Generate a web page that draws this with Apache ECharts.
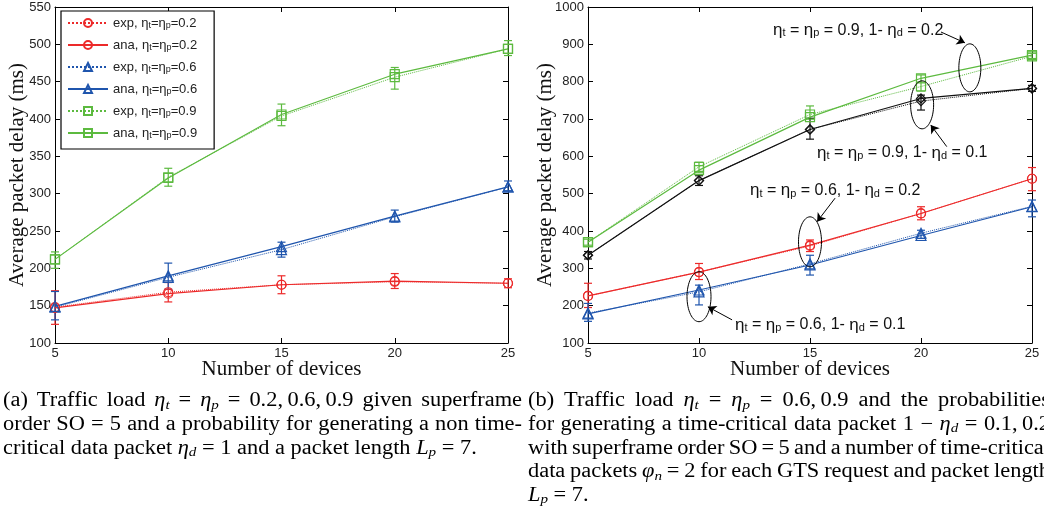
<!DOCTYPE html>
<html>
<head>
<meta charset="utf-8">
<script src="https://cdn.jsdelivr.net/npm/echarts@6/dist/echarts.min.js"></script>
<style>html,body{margin:0;padding:0;background:#fff}#main{width:1044px;height:515px}</style>
</head>
<body>
<div id="main"></div>
<script>
// x values: number of devices
var devices = [5, 10, 15, 20, 25];

// (a) eta_d = 1
var expA02 = [148, 168, 178, 182, 180];
var anaA02 = [147, 166, 178, 183, 180];
var errA02 = [[125, 170], [155, 181], [166, 190], [173, 193], [174, 186]];
var expA06 = [148, 188, 225, 269, 309];
var anaA06 = [149, 190, 229, 270, 309];
var errA06 = [[131, 169], [172, 207], [215, 235], [262, 278], [304, 317]];
var expA09 = [212, 322, 404, 456, 494];
var anaA09 = [212, 321, 406, 460, 494];
var errA09 = [[200, 222], [310, 334], [391, 420], [440, 469], [485, 505]];

// (b) time-critical packets
var expB0902 = [370, 572, 712, 787, 868];
var anaB0902 = [370, 563, 705, 809, 871];
var errB0902 = [[362, 378], [556, 584], [700, 735], [775, 818], [862, 876]];
var expB0901 = [335, 535, 672, 748, 782];
var anaB0901 = [335, 535, 672, 755, 782];
var errB0901 = [[325, 345], [522, 548], [646, 702], [724, 764], [774, 790]];
var expB0602 = [226, 290, 360, 447, 540];
var anaB0602 = [226, 290, 362, 447, 540];
var errB0602 = [[195, 260], [270, 313], [345, 376], [430, 465], [508, 570]];
var expB0601 = [180, 237, 312, 394, 466];
var anaB0601 = [178, 242, 309, 388, 465];
var errB0601 = [[158, 206], [202, 255], [282, 335], [380, 402], [438, 483]];

var legendNames = ['exp, ηt=ηp=0.2', 'ana, ηt=ηp=0.2', 'exp, ηt=ηp=0.6', 'ana, ηt=ηp=0.6', 'exp, ηt=ηp=0.9', 'ana, ηt=ηp=0.9'];

// annotation of panel (b): ellipse centres [x, y, rx px, ry px]
var ellipses = [[22.2, 837, 11, 24], [20.05, 738, 11.5, 24], [15, 371, 11.5, 25], [10, 224, 12, 25]];
// arrows [x1, y1, x2, y2] (head at the second point)
var arrows = [[20.9, 933, 21.98, 904], [21.16, 626, 20.44, 684], [16.13, 488, 15.32, 425], [11.49, 162, 10.4, 197]];
// labels [x, y, text]
var notes = [[13.33, 938, '{e|η}{s|t} = {e|η}{s|p} = 0.9, 1- {e|η}{s|d} = 0.2'],
             [15.32, 609, '{e|η}{s|t} = {e|η}{s|p} = 0.9, 1- {e|η}{s|d} = 0.1'],
             [12.3, 508, '{e|η}{s|t} = {e|η}{s|p} = 0.6, 1- {e|η}{s|d} = 0.2'],
             [11.62, 148, '{e|η}{s|t} = {e|η}{s|p} = 0.6, 1- {e|η}{s|d} = 0.1']];

var capA = ['(a) Traffic load {i|η}{s|t} = {i|η}{s|p} = 0.2,\u20090.6,\u20090.9 given superframe',
            'order SO = 5 and a probability for generating a non time-',
            'critical data packet {i|η}{s|d} = 1 and a packet length {i|L}{s|p} = 7.'];
var capB = ['(b) Traffic load {i|η}{s|t} = {i|η}{s|p} = 0.6,\u20090.9 and the probabilities',
            'for generating a time-critical data packet 1 \u2212 {i|η}{s|d} = 0.1,\u20090.2',
            'with superframe order SO = 5 and a number of time-critical',
            'data packets {i|φ}{s|n} = 2 for each GTS request and packet length',
            '{i|L}{s|p} = 7.'];

var serif = '"Liberation Serif", "Times New Roman", serif';
var sans = '"Liberation Sans", Arial, sans-serif';
var RED = '#ec2a2a', BLUE = '#1f55ad', GREEN = '#5cba3f', BLACK = '#111';
var CAP_SX = 1.12; // caption glyphs are a bit wider than Liberation Serif

function pts(vals) { return devices.map(function (d, i) { return [d, vals[i]]; }); }

function line(name, vals, color, symbol, dotted, axis) {
    return {
        type: 'line', name: name, data: pts(vals), xAxisIndex: axis, yAxisIndex: axis,
        symbol: symbol, symbolSize: symbol == 'triangle' ? 10 : 9, showSymbol: true,
        lineStyle: {color: color, width: dotted ? 1 : 1.2, type: dotted ? 'dotted' : 'solid'},
        itemStyle: {color: 'rgba(255,255,255,0)', borderColor: color, borderWidth: 1.2},
        emphasis: {disabled: true}, z: dotted ? 3 : 4
    };
}

function errRender(params, api) {
    var x = api.value(0);
    var lo = api.coord([x, api.value(1)]), hi = api.coord([x, api.value(2)]);
    var st = {stroke: api.visual('color'), lineWidth: 1.2};
    return {type: 'group', children: [
        {type: 'line', shape: {x1: lo[0], y1: lo[1], x2: hi[0], y2: hi[1]}, style: st},
        {type: 'line', shape: {x1: lo[0] - 4, y1: lo[1], x2: lo[0] + 4, y2: lo[1]}, style: st},
        {type: 'line', shape: {x1: hi[0] - 4, y1: hi[1], x2: hi[0] + 4, y2: hi[1]}, style: st}
    ]};
}

function errs(err, color, axis) {
    return {
        type: 'custom', renderItem: errRender, xAxisIndex: axis, yAxisIndex: axis,
        data: devices.map(function (d, i) { return [d, err[i][0], err[i][1]]; }),
        encode: {x: 0, y: [1, 2]}, itemStyle: {color: color}, z: 2, silent: true
    };
}

function xAx(grid, bottom) {
    return {
        type: 'value', gridIndex: grid, min: 5, max: 25, interval: 5, position: bottom ? 'bottom' : 'top',
        axisLine: {onZero: false, lineStyle: {color: '#000', width: 1}},
        axisTick: {inside: true, length: 5, lineStyle: {color: '#000'}},
        axisLabel: {show: bottom, margin: 4, fontFamily: sans, fontSize: 13, color: '#222'},
        splitLine: {show: false},
        name: bottom ? 'Number of devices' : '', nameLocation: 'middle', nameGap: 16, nameMoveOverlap: false,
        nameTextStyle: {fontFamily: serif, fontSize: 21, color: '#111'}
    };
}

function yAx(grid, left, max, step, gap) {
    return {
        type: 'value', gridIndex: grid, min: 100, max: max, interval: step, position: left ? 'left' : 'right',
        axisLine: {onZero: false, lineStyle: {color: '#000', width: 1}},
        axisTick: {inside: true, length: 5, lineStyle: {color: '#000'}},
        axisLabel: {show: left, margin: 4, fontFamily: sans, fontSize: 13, color: '#222',
            formatter: function (v) { return String(v); }},
        splitLine: {show: false},
        name: left ? 'Average packet delay (ms)' : '', nameLocation: 'middle', nameGap: gap, nameMoveOverlap: false,
        nameTextStyle: {fontFamily: serif, fontSize: 21, color: '#111'}
    };
}

// caption lines, justified like the LaTeX source
var ctx = document.createElement('canvas').getContext('2d');
var capRich = {
    r: {fontFamily: serif, fontSize: 20, lineHeight: 22, color: '#111'},
    i: {fontFamily: serif, fontSize: 20, fontStyle: 'italic', lineHeight: 22, color: '#111'},
    s: {fontFamily: serif, fontSize: 13.5, fontStyle: 'italic', lineHeight: 14, padding: [8, 0, 0, 0], verticalAlign: 'bottom', color: '#111'}
};
function fontOf(st) { return (st.fontStyle || 'normal') + ' ' + st.fontSize + 'px ' + st.fontFamily; }
var gapCount = 0;
function justify(text, width, last) {
    var words = [[]];
    text.replace(/\{(\w)\|([^}]*)\}|([^{]+)/g, function (m, st, tx, plain) {
        if (plain != null) {
            plain.split(' ').forEach(function (w, k) {
                if (k > 0) words.push([]);
                if (w) words[words.length - 1].push(['r', w]);
            });
        } else words[words.length - 1].push([st, tx]);
        return '';
    });
    words = words.filter(function (w) { return w.length; });
    var total = 0;
    words.forEach(function (w) {
        w.forEach(function (p) { ctx.font = fontOf(capRich[p[0]]); total += ctx.measureText(p[1]).width; });
    });
    ctx.font = fontOf(capRich.r);
    var gap = last || words.length < 2 ? ctx.measureText(' ').width : (width - total) / (words.length - 1);
    var key = 'g' + (gapCount++);
    capRich[key] = {fontFamily: serif, fontSize: 20, lineHeight: 22, width: gap};
    return words.map(function (w) {
        return w.map(function (p) { return '{' + p[0] + '|' + p[1] + '}'; }).join('');
    }).join('{' + key + '| }');
}

var series = [
    line(legendNames[0], expA02, RED, 'circle', true, 0),
    line(legendNames[1], anaA02, RED, 'circle', false, 0),
    line(legendNames[2], expA06, BLUE, 'triangle', true, 0),
    line(legendNames[3], anaA06, BLUE, 'triangle', false, 0),
    line(legendNames[4], expA09, GREEN, 'rect', true, 0),
    line(legendNames[5], anaA09, GREEN, 'rect', false, 0),
    errs(errA02, RED, 0), errs(errA06, BLUE, 0), errs(errA09, GREEN, 0),
    line('exp 0.9/0.2', expB0902, GREEN, 'rect', true, 2),
    line('ana 0.9/0.2', anaB0902, GREEN, 'rect', false, 2),
    line('exp 0.9/0.1', expB0901, BLACK, 'diamond', true, 2),
    line('ana 0.9/0.1', anaB0901, BLACK, 'diamond', false, 2),
    line('exp 0.6/0.2', expB0602, RED, 'circle', true, 2),
    line('ana 0.6/0.2', anaB0602, RED, 'circle', false, 2),
    line('exp 0.6/0.1', expB0601, BLUE, 'triangle', true, 2),
    line('ana 0.6/0.1', anaB0601, BLUE, 'triangle', false, 2),
    errs(errB0902, GREEN, 2), errs(errB0901, BLACK, 2), errs(errB0602, RED, 2), errs(errB0601, BLUE, 2)
];
// arrows of the annotations
series[12].markLine = {
    silent: true, symbol: ['none', 'arrow'], symbolSize: 8, animation: false,
    lineStyle: {color: '#000', width: 1, type: 'solid'}, label: {show: false},
    data: arrows.map(function (a) { return [{coord: [a[0], a[1]]}, {coord: [a[2], a[3]]}]; })
};

var chart = echarts.init(document.getElementById('main'));
chart.setOption({
    animation: false,
    backgroundColor: '#fff',
    grid: [
        {left: 55, right: 536, top: 7, bottom: 172, outerBoundsMode: 'none'},
        {left: 588, right: 12, top: 7, bottom: 172, outerBoundsMode: 'none'}
    ],
    xAxis: [xAx(0, true), xAx(0, false), xAx(1, true), xAx(1, false)],
    yAxis: [yAx(0, true, 550, 50, 27), yAx(0, false, 550, 50, 0), yAx(1, true, 1000, 100, 32), yAx(1, false, 1000, 100, 0)],
    legend: {
        data: legendNames, left: 61, top: 11, orient: 'vertical',
        itemWidth: 40, itemHeight: 10, itemGap: 6,
        borderColor: '#000', borderWidth: 1.2, padding: [3, 17, 9, 6], backgroundColor: '#fff',
        selectedMode: false,
        textStyle: {fontFamily: sans, fontSize: 13, color: '#222', lineHeight: 14,
            rich: {s: {fontFamily: sans, fontSize: 9, lineHeight: 9, padding: [7, 0, 0, 0], verticalAlign: 'bottom', color: '#222'}}},
        formatter: function (name) { return name.replace(/η([tp])/g, 'η{s|$1}'); }
    },
    series: series
});

function px(p) { return chart.convertToPixel({xAxisIndex: 2, yAxisIndex: 2}, p); }
var graphics = [];
ellipses.forEach(function (e) {
    var c = px([e[0], e[1]]);
    graphics.push({type: 'ellipse', shape: {cx: c[0], cy: c[1], rx: e[2], ry: e[3]},
        style: {fill: 'none', stroke: '#000', lineWidth: 1}, z: 10, silent: true});
});
var noteRich = {
    e: {fontFamily: sans, fontSize: 17, lineHeight: 17, color: '#111'},
    s: {fontFamily: sans, fontSize: 11, lineHeight: 11, padding: [7, 0, 0, 0], verticalAlign: 'bottom', color: '#111'}
};
notes.forEach(function (n) {
    var c = px([n[0], n[1]]);
    graphics.push({type: 'text', x: c[0], y: c[1], z: 10, silent: true,
        style: {text: n[2], rich: noteRich, fontFamily: sans, fontSize: 16, lineHeight: 17, fill: '#111', verticalAlign: 'middle'}});
});
capA.forEach(function (t, k) {
    graphics.push({type: 'text', x: 3, y: 401 + k * 23.7, scaleX: CAP_SX, silent: true,
        style: {text: justify(t, 519 / CAP_SX, k == capA.length - 1), rich: capRich, verticalAlign: 'middle'}});
});
capB.forEach(function (t, k) {
    graphics.push({type: 'text', x: 528, y: 401 + k * 23.7, scaleX: CAP_SX, silent: true,
        style: {text: justify(t, 522 / CAP_SX, k == capB.length - 1), rich: capRich, verticalAlign: 'middle'}});
});
chart.setOption({graphic: graphics});
</script>
</body>
</html>
